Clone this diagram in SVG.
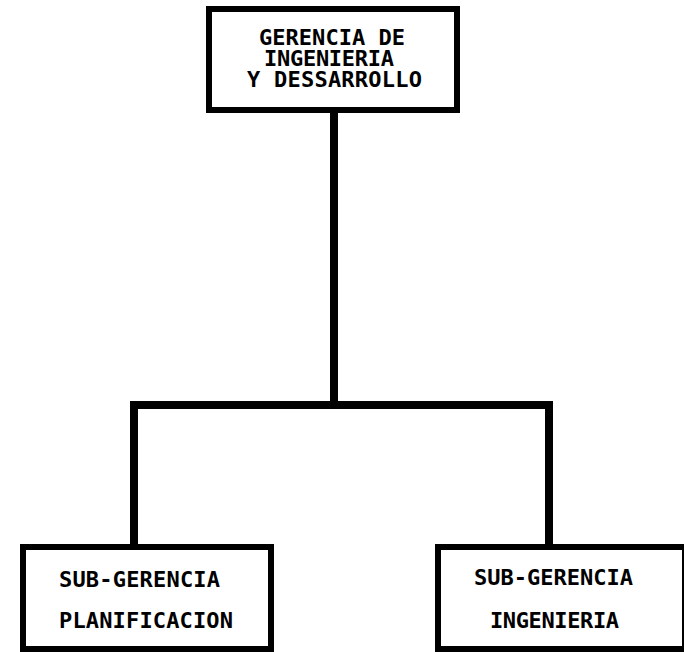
<svg xmlns="http://www.w3.org/2000/svg" width="684" height="652" viewBox="0 0 684 652">
  <style>
    .box { fill: #ffffff; stroke: #000000; stroke-width: 6; }
    .conn { fill: none; stroke: #000000; stroke-width: 8; stroke-linecap: square; stroke-linejoin: miter; }
    .lbl { font-family: "DejaVu Sans Mono", "Liberation Mono", monospace; font-weight: bold; font-size: 22px; fill: #000000; }
  </style>
  <rect x="0" y="0" width="684" height="652" fill="#ffffff"/>
  <g id="connectors">
    <path class="conn" d="M334 110 V405"/>
    <path class="conn" d="M134 547 V405 H549 V547"/>
  </g>
  <g id="gerencia">
    <rect class="box" x="209" y="9" width="248" height="101"/>
    <text class="lbl" x="259" y="45" textLength="146" lengthAdjust="spacing">GERENCIA DE</text>
    <text class="lbl" x="264" y="66" textLength="130" lengthAdjust="spacing">INGENIERIA</text>
    <text class="lbl" x="247" y="87" textLength="175" lengthAdjust="spacing">Y DESSARROLLO</text>
  </g>
  <g id="sub-planificacion">
    <rect class="box" x="23" y="547" width="248" height="102"/>
    <text class="lbl" x="59" y="587" textLength="161" lengthAdjust="spacing">SUB-GERENCIA</text>
    <text class="lbl" x="59" y="628" textLength="174" lengthAdjust="spacing">PLANIFICACION</text>
  </g>
  <g id="sub-ingenieria">
    <rect class="box" x="438" y="547" width="247" height="102"/>
    <text class="lbl" x="474" y="585" textLength="159" lengthAdjust="spacing">SUB-GERENCIA</text>
    <text class="lbl" x="490" y="628" textLength="129" lengthAdjust="spacing">INGENIERIA</text>
  </g>
</svg>
